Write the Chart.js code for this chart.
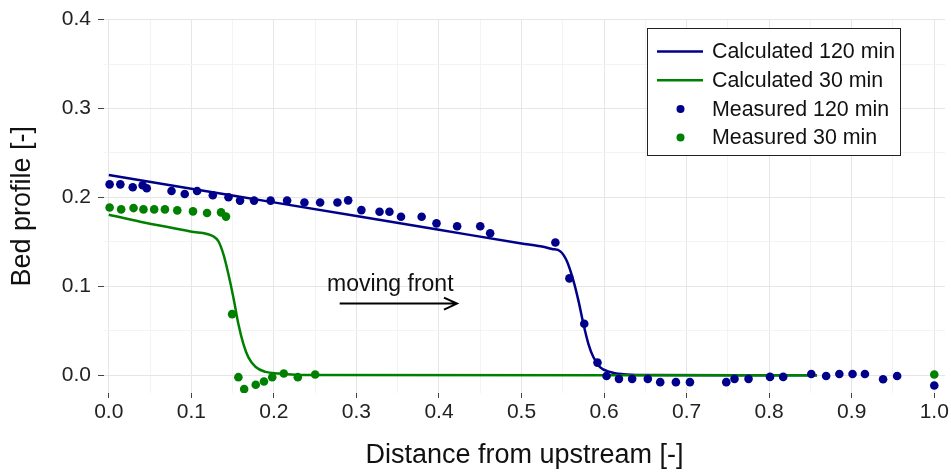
<!DOCTYPE html>
<html>
<head>
<meta charset="utf-8">
<script src="https://cdn.jsdelivr.net/npm/chart.js@4"></script>
<style>
  body { margin: 0; background: #fff; }
  #wrap { width: 951px; height: 472px; }
</style>
</head>
<body>
<div id="wrap"><canvas id="bedChart" width="951" height="472"></canvas></div>
<script>
// tick values
const xTickVals = [0, 0.05, 0.1, 0.15, 0.2, 0.25, 0.3, 0.35, 0.4, 0.45, 0.5, 0.55, 0.6, 0.65, 0.7, 0.75, 0.8, 0.85, 0.9, 0.95, 1.0];
const yTickVals = [0, 0.05, 0.1, 0.15, 0.2, 0.25, 0.3, 0.35, 0.4];

// Calculated 120 min
const calc120X = [0, 0.1, 0.2, 0.3, 0.4, 0.5, 0.523, 0.537, 0.547, 0.555, 0.563, 0.569, 0.575, 0.581, 0.587, 0.595, 0.607, 0.623, 0.645, 0.858];
const calc120Y = [0.2252, 0.2098, 0.1944, 0.179, 0.1636, 0.1482, 0.1450, 0.1420, 0.1393, 0.1281, 0.1058, 0.0836, 0.0576, 0.0353, 0.0204, 0.0092, 0.0037, 0.0011, 0.0002, 0];

// Calculated 30 min
const calc30X = [0, 0.038, 0.099, 0.127, 0.133, 0.139, 0.145, 0.151, 0.157, 0.163, 0.169, 0.178, 0.190, 0.206, 0.23, 0.858];
const calc30Y = [0.1805, 0.1727, 0.1616, 0.156, 0.1504, 0.1356, 0.1133, 0.0872, 0.0576, 0.0353, 0.0204, 0.0092, 0.0037, 0.0019, 0.0003, 0];

// Measured 120 min
const meas120X = [0.001, 0.014, 0.029, 0.041, 0.046, 0.076, 0.092, 0.107, 0.126, 0.145, 0.159, 0.176, 0.196, 0.216, 0.237, 0.256, 0.277, 0.290,
  0.306, 0.328, 0.340, 0.354, 0.379, 0.397, 0.422, 0.450, 0.462, 0.541, 0.558, 0.576, 0.592, 0.603, 0.618, 0.634, 0.653, 0.668, 0.687, 0.704,
  0.748, 0.758, 0.775, 0.801, 0.817, 0.851, 0.869, 0.885, 0.901, 0.916, 0.938, 0.955, 1.0];
const meas120Y = [0.2147, 0.2147, 0.2114, 0.2136, 0.2103, 0.2072, 0.2039, 0.2072, 0.2025, 0.2002, 0.1964, 0.1964, 0.1964, 0.1964, 0.1942, 0.1942, 0.1942, 0.1967,
  0.1857, 0.1838, 0.1838, 0.1783, 0.1783, 0.1708, 0.1675, 0.1675, 0.1597, 0.1493, 0.1089, 0.0579, 0.0142, -0.0008, -0.0041, -0.0041, -0.0041, -0.0078, -0.0078, -0.0078,
  -0.0078, -0.0041, -0.0041, -0.0019, -0.0019, 0.0014, -0.0008, 0.0014, 0.0014, 0.0014, -0.0045, -0.0008, -0.0115];

// Measured 30 min
const meas30X = [0.001, 0.015, 0.030, 0.042, 0.055, 0.068, 0.083, 0.102, 0.119, 0.136, 0.142, 0.1494, 0.157, 0.164, 0.178, 0.188, 0.198, 0.212, 0.229, 0.250, 1.0];
const meas30Y = [0.1887, 0.1865, 0.188, 0.1865, 0.1865, 0.1865, 0.1854, 0.1843, 0.1825, 0.1832, 0.1784, 0.0687, -0.0022, -0.0156, -0.0108, -0.007, -0.0022, 0.0019, -0.0022, 0.0008, 0.0008];

const BLUE = '#00008b';
const GREEN = '#008000';
const FONT = '"Liberation Sans", Arial, sans-serif';

function pts(xs, ys) {
  return xs.map((x, i) => ({ x: x, y: ys[i] }));
}

function isMajor(v) {
  return Math.abs(v * 10 - Math.round(v * 10)) < 1e-6;
}

// legend drawn inside the plot, top right
const boxLegend = {
  id: 'boxLegend',
  afterDraw(chart) {
    const c = chart.ctx;
    const left = 647.5, top = 28.5, w = 253, h = 127;
    c.save();
    c.fillStyle = '#fff';
    c.fillRect(left, top, w, h);
    c.strokeStyle = '#222';
    c.lineWidth = 1;
    c.strokeRect(left, top, w, h);
    c.font = '21.4px ' + FONT;
    c.textBaseline = 'middle';
    c.textAlign = 'left';
    chart.data.datasets.forEach((ds, i) => {
      const y = 51.5 + i * 28.7;
      if (ds.showLine === false) {
        c.fillStyle = ds.backgroundColor;
        c.beginPath();
        c.arc(680.5, y, 4, 0, Math.PI * 2);
        c.fill();
      } else {
        c.strokeStyle = ds.borderColor;
        c.lineWidth = 2.5;
        c.beginPath();
        c.moveTo(657, y);
        c.lineTo(703, y);
        c.stroke();
      }
      c.fillStyle = '#111';
      c.fillText(ds.label, 712, y + 1);
    });
    c.restore();
  }
};

// "moving front" label with arrow
const frontNote = {
  id: 'frontNote',
  afterDatasetsDraw(chart) {
    const c = chart.ctx;
    const xs = chart.scales.x, ys = chart.scales.y;
    const x1 = xs.getPixelForValue(0.2797), x2 = xs.getPixelForValue(0.4218);
    const ya = ys.getPixelForValue(0.0806);
    c.save();
    c.fillStyle = '#111';
    c.font = '23px ' + FONT;
    c.textAlign = 'center';
    c.textBaseline = 'alphabetic';
    c.fillText('moving front', xs.getPixelForValue(0.341), ys.getPixelForValue(0.0947));
    c.strokeStyle = '#000';
    c.lineWidth = 2;
    c.beginPath();
    c.moveTo(x1, ya);
    c.lineTo(x2, ya);
    c.moveTo(x2 - 13, ya - 6);
    c.lineTo(x2, ya);
    c.lineTo(x2 - 13, ya + 6);
    c.stroke();
    c.restore();
  }
};

const ctx = document.getElementById('bedChart').getContext('2d');
const bedChart = new Chart(ctx, {
  type: 'scatter',
  data: {
    datasets: [
      {
        label: 'Calculated 120 min',
        data: pts(calc120X, calc120Y),
        showLine: true,
        borderColor: BLUE,
        backgroundColor: BLUE,
        borderWidth: 2.5,
        pointRadius: 0,
        cubicInterpolationMode: 'monotone',
        order: 3
      },
      {
        label: 'Calculated 30 min',
        data: pts(calc30X, calc30Y),
        showLine: true,
        borderColor: GREEN,
        backgroundColor: GREEN,
        borderWidth: 2.5,
        pointRadius: 0,
        cubicInterpolationMode: 'monotone',
        order: 2
      },
      {
        label: 'Measured 120 min',
        data: pts(meas120X, meas120Y),
        showLine: false,
        backgroundColor: BLUE,
        borderWidth: 0,
        pointRadius: 4.3,
        order: 0
      },
      {
        label: 'Measured 30 min',
        data: pts(meas30X, meas30Y),
        showLine: false,
        backgroundColor: GREEN,
        borderWidth: 0,
        pointRadius: 4.3,
        order: 1
      }
    ]
  },
  options: {
    responsive: false,
    animation: false,
    devicePixelRatio: 1,
    layout: { padding: { top: 16, right: 6, left: 0, bottom: 0 } },
    plugins: {
      legend: { display: false },
      tooltip: { enabled: false }
    },
    scales: {
      x: {
        type: 'linear',
        min: -0.0058,
        max: 1.013,
        afterBuildTicks: (s) => { s.ticks = xTickVals.map(v => ({ value: v })); },
        afterFit: (s) => { s.height = 79; },
        border: { display: false },
        grid: {
          color: (c) => isMajor(c.tick.value) ? '#e6e6e6' : '#f3f3f3',
          tickColor: (c) => isMajor(c.tick.value) ? '#444' : 'rgba(0,0,0,0)',
          tickLength: 5
        },
        ticks: {
          autoSkip: false,
          maxRotation: 0,
          padding: 2,
          color: '#222',
          font: { family: FONT, size: 21 },
          callback: (v) => isMajor(v) ? v.toFixed(1) : ''
        },
        title: {
          display: true,
          text: 'Distance from upstream [-]',
          color: '#111',
          font: { family: FONT, size: 27 },
          padding: { top: 0, bottom: 0 }
        }
      },
      y: {
        type: 'linear',
        min: -0.02,
        max: 0.4,
        afterBuildTicks: (s) => { s.ticks = yTickVals.map(v => ({ value: v })); },
        afterFit: (s) => { s.width = 104; },
        border: { display: false },
        grid: {
          color: (c) => isMajor(c.tick.value) ? '#e6e6e6' : '#f3f3f3',
          tickColor: (c) => isMajor(c.tick.value) ? '#444' : 'rgba(0,0,0,0)',
          tickLength: 6
        },
        ticks: {
          autoSkip: false,
          padding: 7,
          color: '#222',
          font: { family: FONT, size: 21 },
          callback: (v) => isMajor(v) ? v.toFixed(1) : ''
        },
        title: {
          display: true,
          text: 'Bed profile [-]',
          color: '#111',
          font: { family: FONT, size: 27 },
          padding: { top: 6, bottom: 0 }
        }
      }
    }
  },
  plugins: [frontNote, boxLegend]
});
</script>
</body>
</html>
